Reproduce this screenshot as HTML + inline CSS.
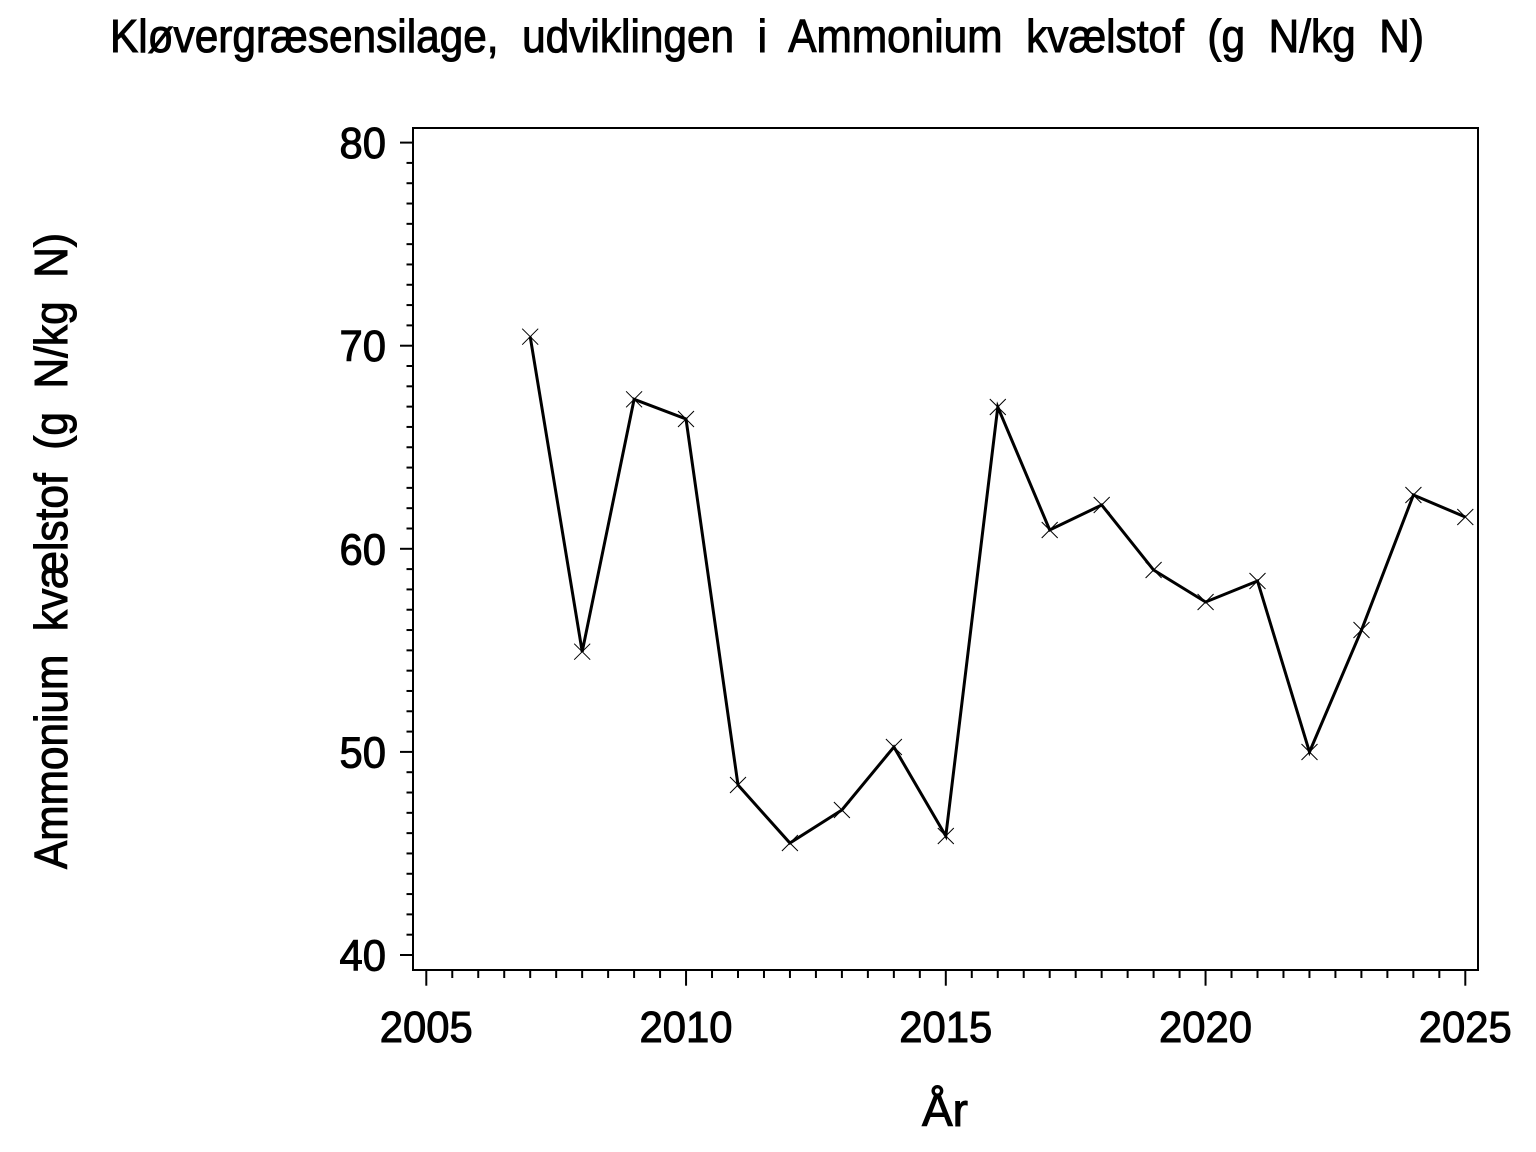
<!DOCTYPE html>
<html>
<head>
<meta charset="utf-8">
<style>
  html, body { margin: 0; padding: 0; background: #fff; }
  svg { display: block; }
  text { font-family: "Liberation Sans", Arial, sans-serif; fill: #000; stroke: #000; stroke-width: 1px; }
</style>
</head>
<body>
<svg width="1536" height="1152" viewBox="0 0 1536 1152" xmlns="http://www.w3.org/2000/svg">
  <rect x="0" y="0" width="1536" height="1152" fill="#fff"/>

  <!-- Title -->
  <text x="110" y="52" font-size="46" textLength="1314" lengthAdjust="spacingAndGlyphs" xml:space="preserve">Kløvergræsensilage,  udviklingen  i  Ammonium  kvælstof  (g  N/kg  N)</text>

  <!-- Y label -->
  <text transform="translate(67,869) rotate(-90)" x="0" y="0" font-size="46" textLength="636" lengthAdjust="spacingAndGlyphs" xml:space="preserve">Ammonium  kvælstof  (g  N/kg  N)</text>

  <!-- X label -->
  <text x="945" y="1126" font-size="46" text-anchor="middle">År</text>

  <!-- Frame -->
  <rect x="413" y="128" width="1065" height="842" fill="none" stroke="#000" stroke-width="2"/>

  <!-- Y ticks -->
  <g stroke="#000" stroke-width="2" id="yticks"></g>
  <!-- X ticks -->
  <g stroke="#000" stroke-width="2" id="xticks"></g>

  <g id="ylabels" font-size="44" text-anchor="end"></g>
  <g id="xlabels" font-size="44" text-anchor="middle"></g>

  <script>
    var NS = "http://www.w3.org/2000/svg";
    function yv(v){ return 955 - (v-40)*20.31; }
    function xv(y){ return 426.3 + (y-2005)*51.95; }
    var yt = document.getElementById('yticks');
    for (var v=40; v<=80; v++){
      var l = document.createElementNS(NS,'line');
      var major = (v%10===0);
      l.setAttribute('x1', major?400:406.5); l.setAttribute('x2', 413);
      l.setAttribute('y1', yv(v)); l.setAttribute('y2', yv(v));
      yt.appendChild(l);
    }
    var xt = document.getElementById('xticks');
    for (var k=0; k<=40; k++){
      var yr = 2005 + k*0.5;
      var l = document.createElementNS(NS,'line');
      var major = (k%10===0);
      l.setAttribute('x1', xv(yr)); l.setAttribute('x2', xv(yr));
      l.setAttribute('y1', 970); l.setAttribute('y2', major?985.7:978);
      xt.appendChild(l);
    }
    var yl = document.getElementById('ylabels');
    for (var v=40; v<=80; v+=10){
      var t = document.createElementNS(NS,'text');
      t.setAttribute('x', 386); t.setAttribute('y', yv(v)+15.5);
      t.setAttribute('textLength', 46.5);
      t.setAttribute('lengthAdjust', 'spacingAndGlyphs');
      t.textContent = v; yl.appendChild(t);
    }
    var xl = document.getElementById('xlabels');
    for (var yr=2005; yr<=2025; yr+=5){
      var t = document.createElementNS(NS,'text');
      t.setAttribute('x', xv(yr)); t.setAttribute('y', 1042);
      t.setAttribute('textLength', 93);
      t.setAttribute('lengthAdjust', 'spacingAndGlyphs');
      t.textContent = yr; xl.appendChild(t);
    }
  </script>

  <polyline fill="none" stroke="#000" stroke-width="3" stroke-linejoin="miter"
    points="530.2,336.7 582.2,651.7 634.1,399.3 686,419 738,785 789.9,843 841.9,810 893.9,747 945.8,836 997.8,407 1049.7,530 1101.7,505 1153.6,570 1205.6,602 1257.5,581 1309.5,752 1361.5,630 1413.4,495 1465.3,517"/>

  <g stroke="#000" stroke-width="1" fill="none">
    <path d="M522.2,328.7 l16,16 m0,-16 l-16,16"/>
    <path d="M574.2,643.7 l16,16 m0,-16 l-16,16"/>
    <path d="M626.1,391.3 l16,16 m0,-16 l-16,16"/>
    <path d="M678,411 l16,16 m0,-16 l-16,16"/>
    <path d="M730,777 l16,16 m0,-16 l-16,16"/>
    <path d="M781.9,835 l16,16 m0,-16 l-16,16"/>
    <path d="M833.9,802 l16,16 m0,-16 l-16,16"/>
    <path d="M885.9,739 l16,16 m0,-16 l-16,16"/>
    <path d="M937.8,828 l16,16 m0,-16 l-16,16"/>
    <path d="M989.8,399 l16,16 m0,-16 l-16,16"/>
    <path d="M1041.7,522 l16,16 m0,-16 l-16,16"/>
    <path d="M1093.7,497 l16,16 m0,-16 l-16,16"/>
    <path d="M1145.6,562 l16,16 m0,-16 l-16,16"/>
    <path d="M1197.6,594 l16,16 m0,-16 l-16,16"/>
    <path d="M1249.5,573 l16,16 m0,-16 l-16,16"/>
    <path d="M1301.5,744 l16,16 m0,-16 l-16,16"/>
    <path d="M1353.5,622 l16,16 m0,-16 l-16,16"/>
    <path d="M1405.4,487 l16,16 m0,-16 l-16,16"/>
    <path d="M1457.3,509 l16,16 m0,-16 l-16,16"/>
  </g>
</svg>
</body>
</html>
